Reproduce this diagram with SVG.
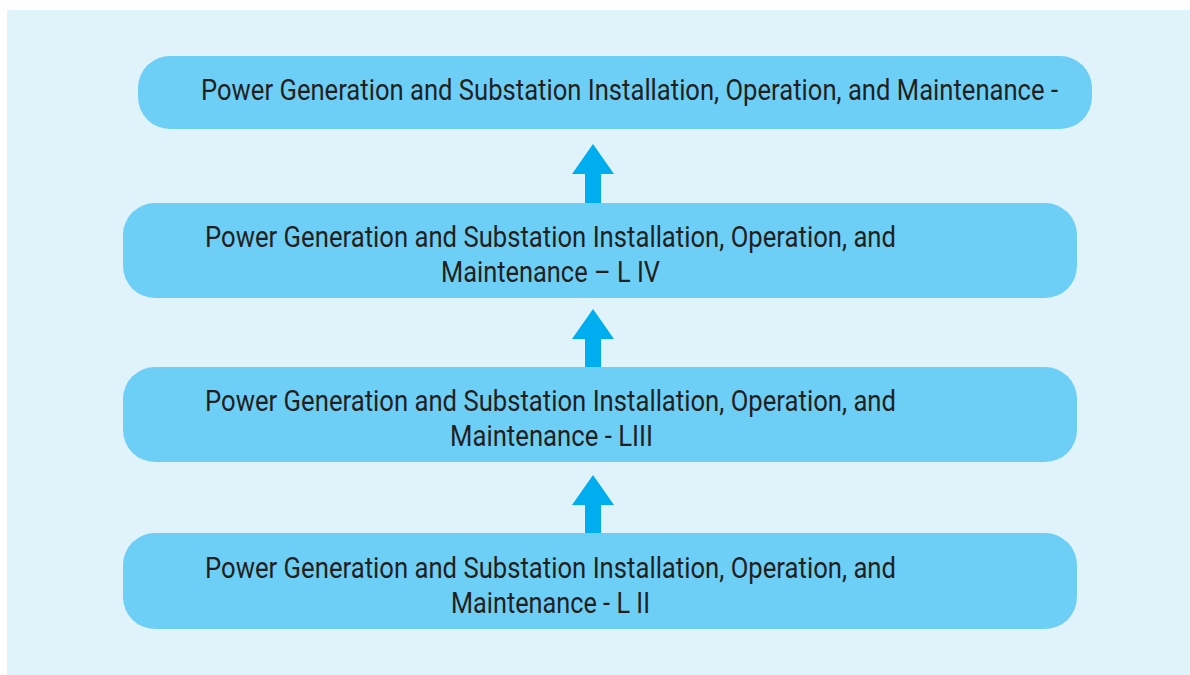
<svg xmlns="http://www.w3.org/2000/svg" width="1190" height="675" viewBox="0 0 1190 675">
<style>
.box{fill:#6dcff6}
.t{font-family:Roboto,"Liberation Sans",sans-serif;font-size:29px;fill:#231f20}
.arr{fill:#00aeef}
</style>
<rect x="0" y="0" width="1190" height="675" fill="#ffffff"/>
<rect x="7" y="10" width="1183" height="665" fill="#e0f3fb"/>
<g id="connectors">
<path class="arr" d="M593,144 L614,174 L601,174 L601,204 L585,204 L585,174 L572,174 Z"/>
<path class="arr" d="M593,309 L614,339 L601,339 L601,368 L585,368 L585,339 L572,339 Z"/>
<path class="arr" d="M593,475 L614,505 L601,505 L601,534 L585,534 L585,505 L572,505 Z"/>
</g>
<g id="node-top">
<rect class="box" x="138" y="56" width="954" height="73" rx="32"/>
<text class="t" x="201" y="100" textLength="857" lengthAdjust="spacingAndGlyphs">Power Generation and Substation Installation, Operation, and Maintenance -</text>
</g>
<g id="node-l4">
<rect class="box" x="123" y="203" width="954" height="95" rx="32"/>
<text class="t" x="205" y="247" textLength="691" lengthAdjust="spacingAndGlyphs">Power Generation and Substation Installation, Operation, and</text>
<text class="t" x="441" y="282" textLength="219" lengthAdjust="spacingAndGlyphs">Maintenance – L IV</text>
</g>
<g id="node-l3">
<rect class="box" x="123" y="367" width="954" height="95" rx="32"/>
<text class="t" x="205" y="411" textLength="691" lengthAdjust="spacingAndGlyphs">Power Generation and Substation Installation, Operation, and</text>
<text class="t" x="450" y="446" textLength="203" lengthAdjust="spacingAndGlyphs">Maintenance - LIII</text>
</g>
<g id="node-l2">
<rect class="box" x="123" y="533" width="954" height="96" rx="32"/>
<text class="t" x="205" y="578" textLength="691" lengthAdjust="spacingAndGlyphs">Power Generation and Substation Installation, Operation, and</text>
<text class="t" x="451" y="613" textLength="199" lengthAdjust="spacingAndGlyphs">Maintenance - L II</text>
</g>
</svg>
